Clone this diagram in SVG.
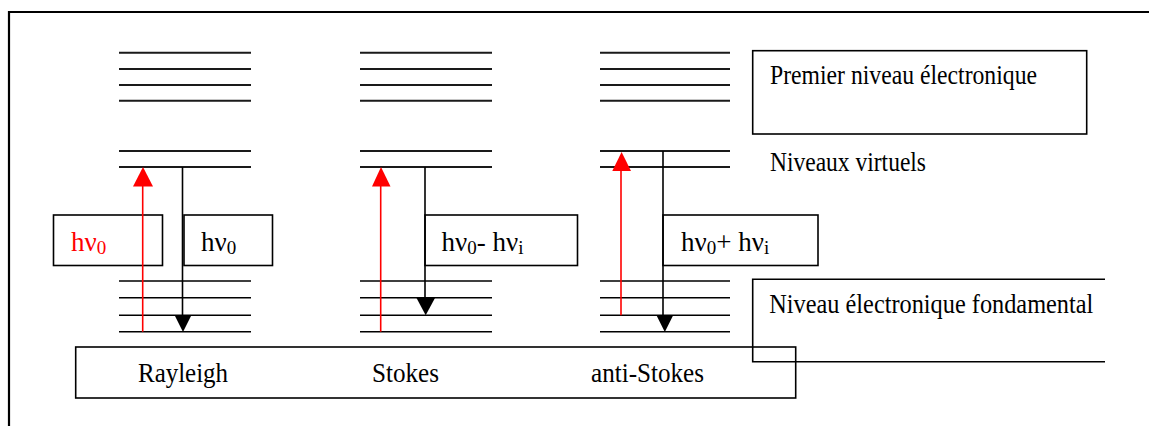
<svg xmlns="http://www.w3.org/2000/svg" width="1149" height="426" viewBox="0 0 1149 426">
<style>
.lvl{stroke:#1a1a1a;stroke-width:2;fill:none}
.lvl2{stroke:#000;stroke-width:1.6;fill:none}
.box{stroke:#000;stroke-width:1.6;fill:none}
.frame{stroke:#000;stroke-width:2.2;fill:none}
.t{font-family:"Liberation Serif","Times New Roman",serif;font-size:28px;fill:#000}
.h{font-family:"Liberation Serif","Times New Roman",serif;font-size:27px;fill:#000}
.sub{font-size:19px}
.red{fill:#ff0000}
.ra{stroke:#ff0000;stroke-width:1.6;fill:none}
.ba{stroke:#000;stroke-width:1.6;fill:none}
</style>
<rect width="1149" height="426" fill="#fff"/>
<path class="frame" d="M9,426 V12 H1149"/>

<g id="rayleigh-levels">
<path class="lvl" d="M119,52.7H251M119,69H251M119,85H251M119,100.7H251M119,151H251M119,167H251"/>
<path class="lvl2" d="M119,281H251M119,297.7H251M119,315.3H251M119,331.7H251"/>
</g>
<g id="stokes-levels">
<path class="lvl" d="M360,52.7H492M360,69H492M360,85H492M360,100.7H492M360,151H492M360,167H492"/>
<path class="lvl2" d="M360,281H492M360,297.7H492M360,315.3H492M360,331.7H492"/>
</g>
<g id="antistokes-levels">
<path class="lvl" d="M600,52.7H730M600,69H730M600,85H730M600,100.7H730M600,151H730M600,167H730"/>
<path class="lvl2" d="M600,281H730M600,297.7H730M600,315.3H730M600,331.7H730"/>
</g>

<g id="box-hv0-red">
<rect class="box" x="53.5" y="215" width="109" height="50.5"/>
<text class="h red" x="71" y="250.7">hν<tspan class="sub" dy="3">0</tspan></text>
</g>
<g id="box-hv0">
<rect class="box" x="184" y="215" width="88.5" height="50.5"/>
<text class="h" x="201" y="250.7">hν<tspan class="sub" dy="3">0</tspan></text>
</g>
<g id="box-stokes">
<rect class="box" x="425" y="215" width="152.5" height="50.5"/>
<text class="h" x="441.5" y="250.7">hν<tspan class="sub" dy="3">0</tspan><tspan dy="-3">- hν</tspan><tspan class="sub" dy="3">i</tspan></text>
</g>
<g id="box-antistokes">
<rect class="box" x="663" y="215" width="155" height="50.5"/>
<text class="h" x="681" y="250.7">hν<tspan class="sub" dy="3">0</tspan><tspan dy="-3">+ hν</tspan><tspan class="sub" dy="3">i</tspan></text>
</g>

<g id="label-premier">
<rect class="box" x="752.7" y="50.7" width="334" height="83.3"/>
<text class="t" x="770" y="84.3" textLength="267" lengthAdjust="spacingAndGlyphs">Premier niveau électronique</text>
</g>
<g id="label-virtuels">
<text class="t" x="770" y="171" textLength="156" lengthAdjust="spacingAndGlyphs">Niveaux virtuels</text>
</g>
<g id="label-fondamental">
<path class="box" d="M1105,279.3H752.7V361.7H1105"/>
<text class="t" x="769.3" y="313.3" textLength="324" lengthAdjust="spacingAndGlyphs">Niveau électronique fondamental</text>
</g>
<g id="label-bottom">
<rect class="box" x="75.7" y="347" width="720" height="51"/>
<text class="t" x="138" y="381.5" textLength="90" lengthAdjust="spacingAndGlyphs">Rayleigh</text>
<text class="t" x="372" y="381.5" textLength="67" lengthAdjust="spacingAndGlyphs">Stokes</text>
<text class="t" x="591" y="381.5" textLength="113" lengthAdjust="spacingAndGlyphs">anti-Stokes</text>
</g>

<g id="connectors">
<path class="ra" d="M142.7,331.7V185"/>
<polygon fill="#ff0000" points="133,186.5 153,186.5 143,167"/>
<path class="ba" d="M182.5,167V316"/>
<polygon fill="#000" points="174.5,315 191.5,315 183,332"/>

<path class="ra" d="M380.7,331.7V185"/>
<polygon fill="#ff0000" points="372,186.5 390.5,186.5 381,167"/>
<path class="ba" d="M425,167V299"/>
<polygon fill="#000" points="416.5,298 435,298 425.7,315.3"/>

<path class="ra" d="M621,315.3V170"/>
<polygon fill="#ff0000" points="612.3,171 631,171 621.6,152"/>
<path class="ba" d="M663,151V316"/>
<polygon fill="#000" points="656.3,315 673.3,315 664.8,332"/>
</g>
</svg>
